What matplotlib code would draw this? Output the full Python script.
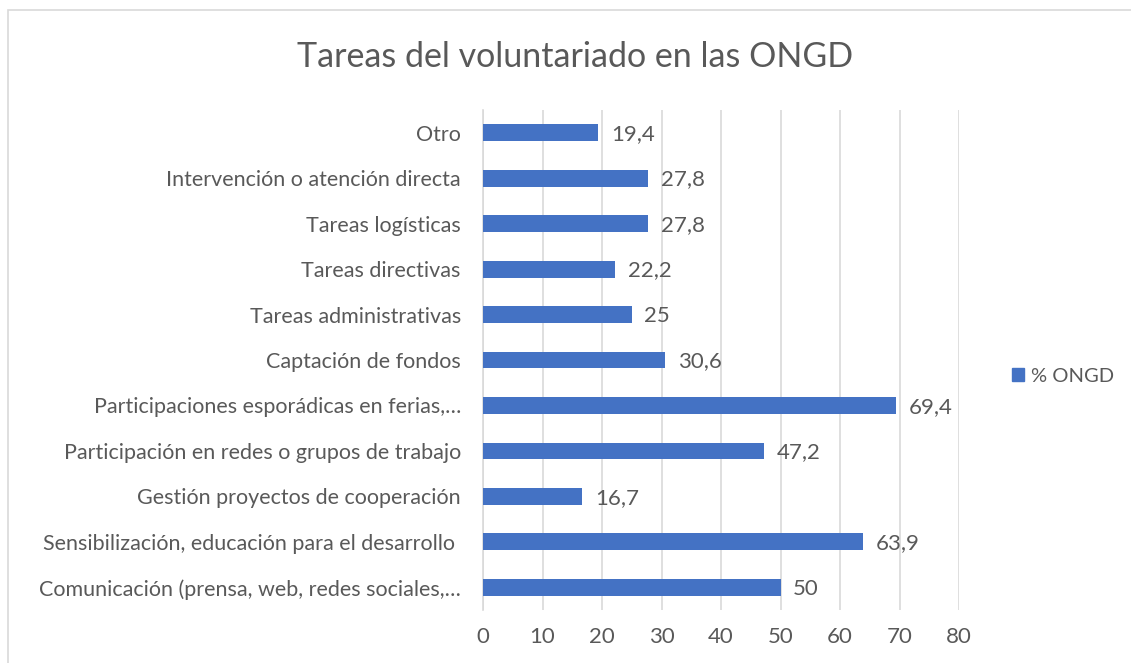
import matplotlib
matplotlib.use("Agg")
from matplotlib import pyplot as plt
from matplotlib.patches import Rectangle, Patch

# data (top to bottom as in the chart)
categories = [
    "Otro",
    "Intervención o atención directa",
    "Tareas logísticas",
    "Tareas directivas",
    "Tareas administrativas",
    "Captación de fondos",
    "Participaciones esporádicas en ferias,…",
    "Participación en redes o grupos de trabajo",
    "Gestión proyectos de cooperación",
    "Sensibilización, educación para el desarrollo ",
    "Comunicación (prensa, web, redes sociales,…",
]
values = [19.4, 27.8, 27.8, 22.2, 25, 30.6, 69.4, 47.2, 16.7, 63.9, 50]
xticks = [0, 10, 20, 30, 40, 50, 60, 70, 80]
series_name = "% ONGD"

plt.rcParams["font.family"] = ["Lato", "DejaVu Sans"]
txt = "#595959"
bar_col = "#4472C4"
grid_col = "#D9D9D9"

W, H = 1131, 663
fig = plt.figure(figsize=(W / 100, H / 100), dpi=100)

# outer chart border (runs off the right and bottom of the picture)
fig.patches.append(Rectangle((8 / W, -0.1), 1.2, 1 - 10 / H + 0.1,
                             transform=fig.transFigure, fill=False,
                             edgecolor=grid_col, linewidth=1.2))

ax = fig.add_axes([483 / W, 1 - 610 / H, (959 - 483) / W, 500 / H])
ypos = list(range(len(categories)))
ax.barh(ypos, values, height=0.37, color=bar_col, zorder=3)
ax.set_ylim(len(categories) - 0.5, -0.5)
ax.set_xlim(0, 80)
ax.set_xticks(xticks)
ax.set_yticks(ypos)
ax.set_yticklabels(categories)
ax.xaxis.grid(True, color=grid_col, linewidth=1.2, zorder=0)
ax.tick_params(axis="both", length=0, labelsize=16, labelcolor=txt)
ax.tick_params(axis="y", pad=16, labelsize=15.5)
ax.tick_params(axis="x", pad=12)
for s in ["top", "right", "bottom"]:
    ax.spines[s].set_visible(False)
ax.spines["left"].set_color(grid_col)
ax.spines["left"].set_linewidth(1.2)

for y, v in zip(ypos, values):
    lab = ("%g" % v).replace(".", ",")
    ax.annotate(lab, (v, y), xytext=(9, -1), textcoords="offset points",
                va="center", ha="left", fontsize=16, color=txt)

fig.text(575 / W, 1 - 57 / H, "Tareas del voluntariado en las ONGD",
         ha="center", va="center", fontsize=24.5, color=txt)

fig.legend(handles=[Patch(color=bar_col, label=series_name)],
           loc="center left", bbox_to_anchor=(1012 / W, 1 - 376 / H),
           frameon=False, fontsize=14.5, labelcolor=txt,
           borderpad=0, borderaxespad=0,
           handlelength=0.6, handleheight=0.6, handletextpad=0.35)

fig.savefig("out.png", dpi=100)
